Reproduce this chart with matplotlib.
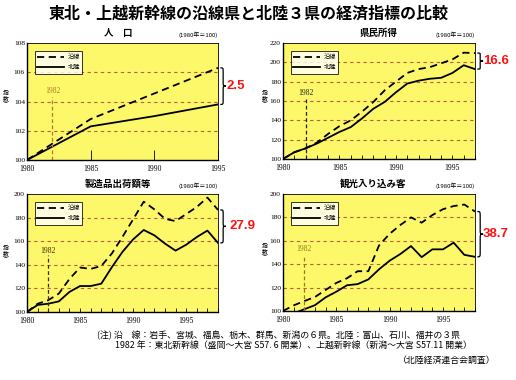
import numpy as np
import matplotlib.pyplot as plt
from matplotlib.path import Path
from matplotlib.patches import PathPatch
import matplotlib.transforms as mtransforms

plt.rcParams['font.family'] = ['Noto Sans CJK JP', 'DejaVu Sans']

# ---- data (1980 = 100) ----
pop_years = [1980, 1985, 1990, 1995]
pop_ensen = [100, 102.8, 104.55, 106.3]
pop_hokuriku = [100, 102.3, 103.0, 103.8]

inc_years = list(range(1980, 1998))
inc_ensen = [100, 107, 111, 117, 126, 134, 140, 149, 159, 171, 180, 189, 193, 195, 199, 203, 210, 209.6]
inc_hokuriku = [100, 107, 111, 116, 122, 128, 133, 142, 152, 159, 169, 178, 181, 183, 184, 189, 197, 193]

mfg_years = list(range(1980, 1999))
mfg_ensen = [100, 107, 110, 115.6, 128, 137.7, 136.5, 139, 149.6, 163.7, 178.5, 193.5, 187, 179, 177, 183, 189, 197, 186.5]
mfg_hokuriku = [100, 106, 107, 109, 117, 122, 122, 124, 138, 151, 161.5, 169.5, 165, 158, 152, 157, 163.5, 169, 158.6]

tour_years = list(range(1980, 1999))
tour_ensen = [100, 104.8, 108.5, 112, 118, 124, 128, 134, 134, 156, 166, 173.5, 180, 175.5, 182, 187, 189.7, 191, 185]
tour_hokuriku = [96, 98, 101.5, 105, 111.7, 116.5, 122, 123, 127, 135.6, 143, 148.7, 155.5, 146, 152.7, 152.7, 158.4, 148, 146.3]

gaps = ['2.5', '16.6', '27.9', '38.7']
titles = ['人　口', '県民所得', '製造品出荷額等', '観光入り込み客']

W, H = 516, 380
fig = plt.figure(figsize=(W / 100, H / 100), dpi=100)
fig.patch.set_facecolor('white')

def rect(x0, x1, y0, y1):
    return [x0 / W, 1 - y1 / H, (x1 - x0) / W, (y1 - y0) / H]

yellow = '#fdf86a'
gridc = '#b8603c'
serif = 'Liberation Serif'


def brace(ax, ytop, ybot, x0, w):
    tr = mtransforms.blended_transform_factory(ax.transAxes, ax.transData)
    ym = (ytop + ybot) / 2
    d = 0.12 * (ytop - ybot)
    xm = x0 + w / 2
    verts = [(x0, ytop), (xm, ytop), (xm, ytop), (xm, ytop - d),
             (xm, ym + d), (xm, ym), (xm, ym), (x0 + w, ym),
             (xm, ym), (xm, ym), (xm, ym - d),
             (xm, ybot + d), (xm, ybot), (xm, ybot), (x0, ybot)]
    codes = [Path.MOVETO, Path.CURVE4, Path.CURVE4, Path.CURVE4,
             Path.LINETO, Path.CURVE4, Path.CURVE4, Path.CURVE4,
             Path.CURVE4, Path.CURVE4, Path.CURVE4,
             Path.LINETO, Path.CURVE4, Path.CURVE4, Path.CURVE4]
    p = PathPatch(Path(verts, codes), transform=tr, fill=False, lw=0.9,
                  edgecolor='black', clip_on=False)
    ax.add_patch(p)
    return ym


def panel(pos, years, ensen, hokuriku, xlim, ylim, ystep, title, title_x,
          gap, gap_x, vline_top, label_y, vcolor, yearly_ticks=True):
    ax = fig.add_axes(pos)
    ax.set_facecolor(yellow)
    ax.plot(years, ensen, color='black', lw=1.3, ls=(0, (4, 2.5)), label='沿線')
    ax.plot(years, hokuriku, color='black', lw=1.3, label='北陸')
    ax.set_xlim(*xlim)
    ax.set_ylim(*ylim)
    yt = np.arange(ylim[0], ylim[1] + 0.1, ystep)
    ax.set_yticks(yt)
    ax.set_yticklabels([f'{v:g}' for v in yt], fontsize=5.3, family=serif)
    ax.set_xticks([1980, 1985, 1990, 1995])
    ax.set_xticklabels(['1980', '1985', '1990', '1995'], fontsize=5.5, family=serif)
    for v in yt[1:-1]:
        ax.axhline(v, color=gridc, lw=0.8, ls=(0, (3, 3)), zorder=1)
    if yearly_ticks:
        ax.set_xticks(range(xlim[0], int(xlim[1]) + 1), minor=True)
        ax.tick_params(axis='x', which='both', direction='in', length=3, width=0.6, pad=3.5)
    else:
        ax.tick_params(axis='x', which='major', direction='in', length=7, width=0.6, pad=3.5)
    ax.tick_params(axis='y', direction='in', length=0, pad=1.5)
    for s in ax.spines.values():
        s.set_linewidth(0.6)
    ax.spines['left'].set_linewidth(1.0)
    ax.spines['bottom'].set_linewidth(1.0)
    # 1982 opening line
    ax.plot([1982, 1982], [ylim[0], vline_top], color=vcolor, lw=0.9, ls=(0, (3, 2)))
    ax.text(1982, label_y, '1982', fontsize=5.5, family=serif, color=vcolor,
            ha='center', va='center')
    leg = ax.legend(loc='upper left', bbox_to_anchor=(0.025, 0.96), fontsize=4.5,
                    frameon=True, fancybox=False, handlelength=4.2,
                    borderpad=0.4, labelspacing=0.3, handletextpad=0.6)
    leg.get_frame().set_edgecolor('black')
    leg.get_frame().set_linewidth(0.7)
    ax.text(title_x, 1.045, title, transform=ax.transAxes, fontsize=6.8,
            fontweight='bold', ha='center', va='bottom')
    ax.text(1.0, 1.045, '(1980年＝100)', transform=ax.transAxes, fontsize=4.3,
            ha='right', va='bottom')
    ym = brace(ax, ensen[-1], hokuriku[-1], 1.012, 0.03)
    ax.text(gap_x, ym, gap, transform=mtransforms.blended_transform_factory(ax.transAxes, ax.transData),
            fontsize=9.5, fontweight='bold', color='#ff1010', family='Liberation Sans',
            ha='left', va='center')
    return ax


panel(rect(27, 218, 43, 160), pop_years, pop_ensen, pop_hokuriku, (1980, 1995),
      (100, 108), 2, titles[0], 0.476, gaps[0], 1.045, 104.3, 104.75, '#b07a28',
      yearly_ticks=False)
panel(rect(283, 475, 43, 159), inc_years, inc_ensen, inc_hokuriku, (1980, 1997),
      (100, 220), 20, titles[1], 0.5, gaps[1], 1.04, 163, 168.5, '#222222')
panel(rect(27, 218, 194, 312), mfg_years, mfg_ensen, mfg_hokuriku, (1980, 1998),
      (100, 200), 20, titles[2], 0.476, gaps[2], 1.058, 148, 152, '#3a2a10')
panel(rect(283, 475, 194, 311), tour_years, tour_ensen, tour_hokuriku, (1980, 1998),
      (100, 200), 20, titles[3], 0.47, gaps[3], 1.04, 148, 153, '#9a7a20')

# vertical y-axis labels (指数)
for px, py in [(6, 96), (265, 96), (6, 251), (265, 249)]:
    fig.text(px / W, 1 - py / H, '︵\n指\n数\n︶', fontsize=4.2, ha='center', va='center',
             linespacing=0.9)

fig.text(249 / W, 1 - 14 / H, '東北・上越新幹線の沿線県と北陸３県の経済指標の比較',
         fontsize=11.5, fontweight='bold', ha='center', va='center')

fig.text(97 / W, 1 - 336 / H,
         '(注) 沿　線：岩手、宮城、福島、栃木、群馬、新潟の６県。北陸：富山、石川、福井の３県',
         fontsize=6.4, ha='left', va='center')
fig.text(115 / W, 1 - 346 / H,
         '1982 年：東北新幹線（盛岡～大宮 S57. 6 開業）、上越新幹線（新潟～大宮 S57.11 開業）',
         fontsize=6.4, ha='left', va='center')
fig.text(495 / W, 1 - 360 / H, '（北陸経済連合会調査）', fontsize=6.4, ha='right', va='center')

fig.savefig('out.png', dpi=100)
